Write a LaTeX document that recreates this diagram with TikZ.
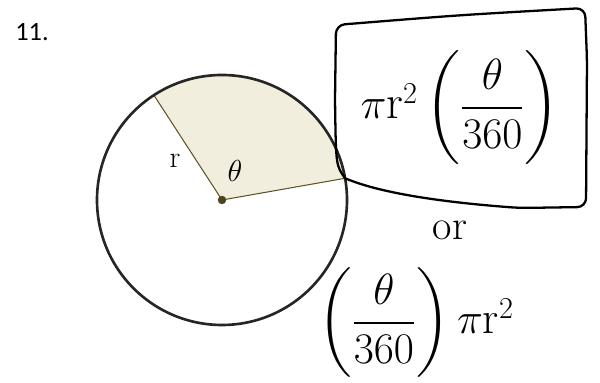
\documentclass[tikz,border=0pt]{standalone}
\usepackage{amsmath,amssymb}
\usepackage{fontspec}
\usepackage{xcolor}
\usepackage{tikz}
\usetikzlibrary{calc}
\newfontfamily\numfont{Carlito}
\definecolor{sectorfill}{RGB}{242,238,222}
\definecolor{olive}{RGB}{95,85,35}

\begin{document}
\begin{tikzpicture}
    \useasboundingbox (0,0) rectangle (12,7.66);

    % problem number
    \node[font=\numfont\fontsize{15}{17}\selectfont] (num) at (0.64,7.02) {11.};

    % circle and shaded sector
    \coordinate (O) at (4.44,3.66);
    \fill[sectorfill] (O) -- ++(10:2.5) arc (10:123:2.5) -- cycle;
    \draw[olive, line width=0.6pt] ($(O)+(123:2.5)$) -- (O) -- ($(O)+(10:2.5)$);
    \draw[black!85, line width=1.5pt] (O) circle (2.5);
    \fill[olive!80!black] (O) circle (2.4pt);

    % labels
    \node[font=\LARGE] (rlabel) at (3.5,4.45) {r};
    \node[font=\LARGE] (thetalabel) at (4.7,4.25) {$\theta$};

    % hand-drawn box round the first formula
    \draw[black, line width=1.3pt, rounded corners=5pt]
        ($(O)+(10:2.5)$) .. controls (6.72,4.35) .. (6.70,5.66)
        -- (6.72,7.16) .. controls (9.2,7.36) .. (11.7,7.5)
        -- (11.74,6.46) -- (11.72,3.52)
        -- (10.4,3.5) .. controls (8.8,3.62) and (7.6,3.8) .. ($(O)+(10:2.5)$);

    % formulas
    \node[font=\fontsize{27}{30}\selectfont, inner sep=1pt] (formA) at (9.2,5.5)
        {$\pi\mathrm{r}^{2}\left(\dfrac{\theta}{360}\right)$};
    \node[font=\fontsize{24}{26}\selectfont, inner sep=0pt] (orlabel) at (9.0,3.05) {or};
    \node[font=\fontsize{26}{28}\selectfont, inner sep=0pt] (formB) at (8.32,1.2)
        {$\left(\dfrac{\theta}{360}\right)\pi\mathrm{r}^{2}$};
\end{tikzpicture}
\end{document}
